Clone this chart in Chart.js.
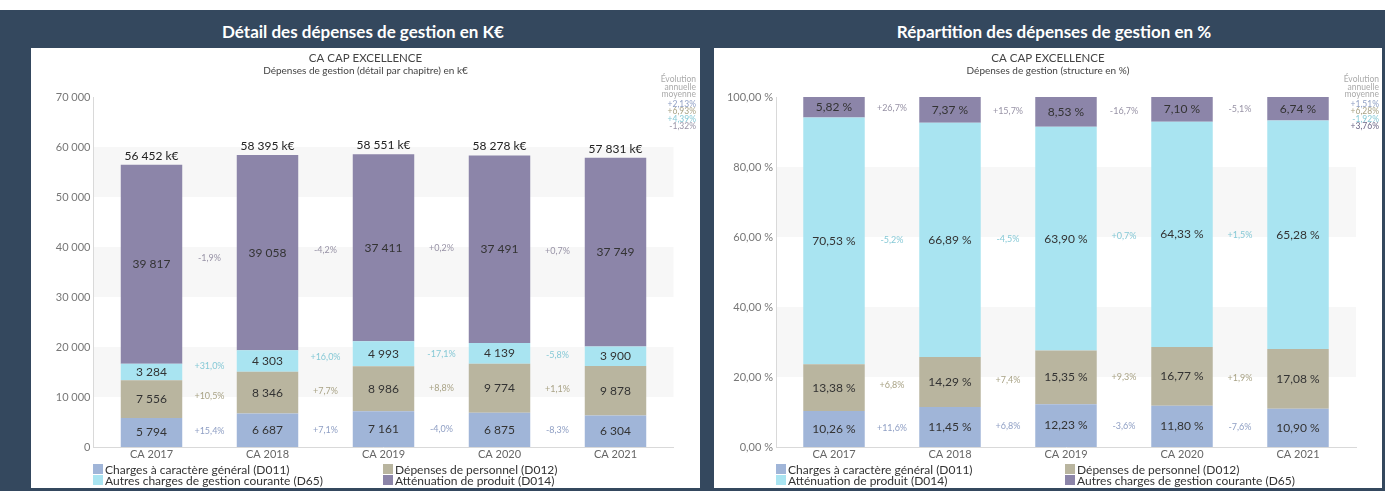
<!DOCTYPE html>
<html lang="fr">
<head>
<meta charset="utf-8">
<title>Dépenses de gestion - CA CAP EXCELLENCE</title>
<script src="https://cdn.jsdelivr.net/npm/chart.js@4"></script>
<style>
  body { margin: 0; width: 1385px; height: 491px; background: #fff; font-family: Lato, sans-serif; overflow: hidden; position: relative; }
  .fond { position: absolute; left: 0; top: 10px; width: 1385px; height: 481px; background: #34485e; }
  .entete { position: absolute; top: 21px; width: 500px; color: #fff; font-weight: bold; font-size: 17px; text-align: center; }
  .panneau { position: absolute; top: 48px; height: 440px; background: #fff; }
  canvas { display: block; }
</style>
</head>
<body>
<div class="fond"></div>
<div class="entete" style="left:113px">Détail des dépenses de gestion en K€</div>
<div class="entete" style="left:804px">Répartition des dépenses de gestion en %</div>
<div class="panneau" style="left:31px;width:669px"><canvas id="chartK" width="669" height="440"></canvas></div>
<div class="panneau" style="left:714px;width:668px"><canvas id="chartPct" width="668" height="440"></canvas></div>

<script>
// === DONNÉES ===
const categories = ['CA 2017', 'CA 2018', 'CA 2019', 'CA 2020', 'CA 2021'];

// détail en k€
const chargesGeneralesK = [5794, 6687, 7161, 6875, 6304];
const personnelK = [7556, 8346, 8986, 9774, 9878];
const autresChargesK = [3284, 4303, 4993, 4139, 3900];
const attenuationK = [39817, 39058, 37411, 37491, 37749];
const totauxK = [56452, 58395, 58551, 58278, 57831];

const evolChargesGeneralesK = ['+15,4%', '+7,1%', '-4,0%', '-8,3%'];
const evolPersonnelK = ['+10,5%', '+7,7%', '+8,8%', '+1,1%'];
const evolAutresChargesK = ['+31,0%', '+16,0%', '-17,1%', '-5,8%'];
const evolAttenuationK = ['-1,9%', '-4,2%', '+0,2%', '+0,7%'];
const evolMoyenneK = ['+2,13%', '+6,93%', '+4,39%', '-1,32%'];

// structure en %
const chargesGeneralesPct = [10.26, 11.45, 12.23, 11.80, 10.90];
const personnelPct = [13.38, 14.29, 15.35, 16.77, 17.08];
const attenuationPct = [70.53, 66.89, 63.90, 64.33, 65.28];
const autresChargesPct = [5.82, 7.37, 8.53, 7.10, 6.74];

const evolChargesGeneralesPct = ['+11,6%', '+6,8%', '-3,6%', '-7,6%'];
const evolPersonnelPct = ['+6,8%', '+7,4%', '+9,3%', '+1,9%'];
const evolAttenuationPct = ['-5,2%', '-4,5%', '+0,7%', '+1,5%'];
const evolAutresChargesPct = ['+26,7%', '+15,7%', '-16,7%', '-5,1%'];
const evolMoyennePct = ['+1,51%', '+6,28%', '-1,92%', '+3,76%'];

// === COULEURS ===
const BLEU = '#a0b5d8', BEIGE = '#b9b59f', CYAN = '#a9e4f1', VIOLET = '#8c85a9';
const BLEU_TXT = '#8f9fc4', BEIGE_TXT = '#a9a386', CYAN_TXT = '#86c9d6', VIOLET_TXT = '#9893a6';

Chart.defaults.font.family = 'Lato, sans-serif';

const fmtMilliers = v => String(Math.round(v)).replace(/\B(?=(\d{3})+(?!\d))/g, ' ');
const fmtPct = v => v.toFixed(2).replace('.', ',') + ' %';

// bandes grises, étiquettes, titres, légende
const habillage = {
  id: 'habillage',
  beforeDraw(chart) {
    const { ctx, chartArea: a, scales: { y } } = chart;
    ctx.save();
    ctx.fillStyle = '#f7f7f7';
    y.ticks.forEach((t, i) => {
      if (i % 2 === 1 && i < y.ticks.length - 1) {
        const y1 = y.getPixelForValue(y.ticks[i + 1].value);
        const y0 = y.getPixelForValue(t.value);
        ctx.fillRect(a.left, y1, a.right - a.left, y0 - y1);
      }
    });
    ctx.restore();
  },
  afterDraw(chart, args, opts) {
    const { ctx } = chart;
    const w = chart.width;
    ctx.save();
    ctx.textAlign = 'center';
    ctx.textBaseline = 'middle';

    // titres
    ctx.fillStyle = '#444';
    ctx.font = '11.5px Lato';
    ctx.fillText(opts.titre, w / 2, 10);
    ctx.font = '10px Lato';
    ctx.fillText(opts.sousTitre, w / 2, 23);

    // valeurs dans les segments + évolutions entre barres
    chart.data.datasets.forEach((ds, i) => {
      const bars = chart.getDatasetMeta(i).data;
      const centres = bars.map(b => (b.y + b.base) / 2);
      ctx.font = '12px Lato';
      ctx.fillStyle = '#333';
      bars.forEach((b, j) => ctx.fillText(opts.fmt(ds.data[j]), b.x, centres[j]));
      ctx.font = '9px Lato';
      ctx.fillStyle = ds.couleurEvol;
      ds.evol.forEach((txt, j) => {
        ctx.fillText(txt, (bars[j].x + bars[j + 1].x) / 2, (centres[j] + centres[j + 1]) / 2);
      });
    });

    // totaux au-dessus des barres
    if (opts.totaux) {
      const haut = chart.getDatasetMeta(chart.data.datasets.length - 1).data;
      ctx.font = '12px Lato';
      ctx.fillStyle = '#222';
      haut.forEach((b, j) => ctx.fillText(fmtMilliers(opts.totaux[j]) + ' k€', b.x, b.y - 9));
    }

    // évolution annuelle moyenne
    ctx.textAlign = 'right';
    ctx.font = '8.5px Lato';
    ctx.fillStyle = '#aaa';
    ['Évolution', 'annuelle', 'moyenne'].forEach((t, k) => ctx.fillText(t, 665, 31 + k * 7.8));
    opts.moyenne.forEach((t, k) => {
      ctx.fillStyle = opts.couleursMoyenne[k];
      ctx.fillText(t, 665, 56 + k * 7.5);
    });

    // légende 2 colonnes
    ctx.textAlign = 'left';
    ctx.font = '12px Lato';
    chart.data.datasets.forEach((ds, k) => {
      const x = opts.legendeX[k % 2];
      const yc = 421 + Math.floor(k / 2) * 11;
      ctx.fillStyle = ds.backgroundColor;
      ctx.fillRect(x, yc - 5, 10, 10);
      ctx.fillStyle = '#333';
      ctx.fillText(ds.label, x + 12, yc + 1);
    });
    ctx.restore();
  }
};

function creerGraphique(id, datasets, axeY, plugOpts, padDroite) {
  const ctx = document.getElementById(id).getContext('2d');
  return new Chart(ctx, {
    type: 'bar',
    data: { labels: categories, datasets },
    options: {
      responsive: false,
      animation: false,
      events: [],
      datasets: { bar: { barPercentage: 0.53, categoryPercentage: 1 } },
      layout: { padding: { top: 49, right: padDroite, bottom: 21, left: 0 } },
      plugins: { legend: { display: false }, tooltip: { enabled: false }, habillage: plugOpts },
      scales: {
        x: {
          stacked: true,
          grid: { display: false, drawTicks: false },
          border: { color: '#d9d9d9' },
          ticks: { color: '#666', font: { size: 11 }, padding: 1 },
          afterFit: s => { s.height = 20; }
        },
        y: Object.assign({
          stacked: true,
          min: 0,
          grid: { display: false, drawTicks: false },
          border: { color: '#d9d9d9' }
        }, axeY)
      }
    },
    plugins: [habillage]
  });
}

// === GRAPHIQUE 1 : détail en k€ ===
creerGraphique('chartK', [
  { label: 'Charges à caractère général (D011)', data: chargesGeneralesK, backgroundColor: BLEU, evol: evolChargesGeneralesK, couleurEvol: BLEU_TXT },
  { label: 'Dépenses de personnel (D012)', data: personnelK, backgroundColor: BEIGE, evol: evolPersonnelK, couleurEvol: BEIGE_TXT },
  { label: 'Autres charges de gestion courante (D65)', data: autresChargesK, backgroundColor: CYAN, evol: evolAutresChargesK, couleurEvol: CYAN_TXT },
  { label: 'Atténuation de produit (D014)', data: attenuationK, backgroundColor: VIOLET, evol: evolAttenuationK, couleurEvol: VIOLET_TXT }
], {
  max: 70000,
  ticks: { stepSize: 10000, color: '#777', font: { size: 11 }, padding: 3, callback: v => fmtMilliers(v) },
  afterFit: s => { s.width = 62.5; }
}, {
  titre: 'CA CAP EXCELLENCE',
  sousTitre: 'Dépenses de gestion (détail par chapitre) en k€',
  fmt: fmtMilliers,
  totaux: totauxK,
  moyenne: evolMoyenneK,
  couleursMoyenne: [BLEU_TXT, BEIGE_TXT, CYAN_TXT, VIOLET_TXT],
  legendeX: [62, 352]
}, 26.5);

// === GRAPHIQUE 2 : structure en % ===
creerGraphique('chartPct', [
  { label: 'Charges à caractère général (D011)', data: chargesGeneralesPct, backgroundColor: BLEU, evol: evolChargesGeneralesPct, couleurEvol: BLEU_TXT },
  { label: 'Dépenses de personnel (D012)', data: personnelPct, backgroundColor: BEIGE, evol: evolPersonnelPct, couleurEvol: BEIGE_TXT },
  { label: 'Atténuation de produit (D014)', data: attenuationPct, backgroundColor: CYAN, evol: evolAttenuationPct, couleurEvol: CYAN_TXT },
  { label: 'Autres charges de gestion courante (D65)', data: autresChargesPct, backgroundColor: VIOLET, evol: evolAutresChargesPct, couleurEvol: VIOLET_TXT }
], {
  max: 100,
  ticks: { stepSize: 20, color: '#777', font: { size: 11 }, padding: 3, callback: v => fmtPct(v) },
  afterFit: s => { s.width = 62; }
}, {
  titre: 'CA CAP EXCELLENCE',
  sousTitre: 'Dépenses de gestion (structure en %)',
  fmt: fmtPct,
  moyenne: evolMoyennePct,
  couleursMoyenne: [BLEU_TXT, BEIGE_TXT, CYAN_TXT, '#6c6686'],
  legendeX: [62, 351]
}, 26);
</script>
</body>
</html>
